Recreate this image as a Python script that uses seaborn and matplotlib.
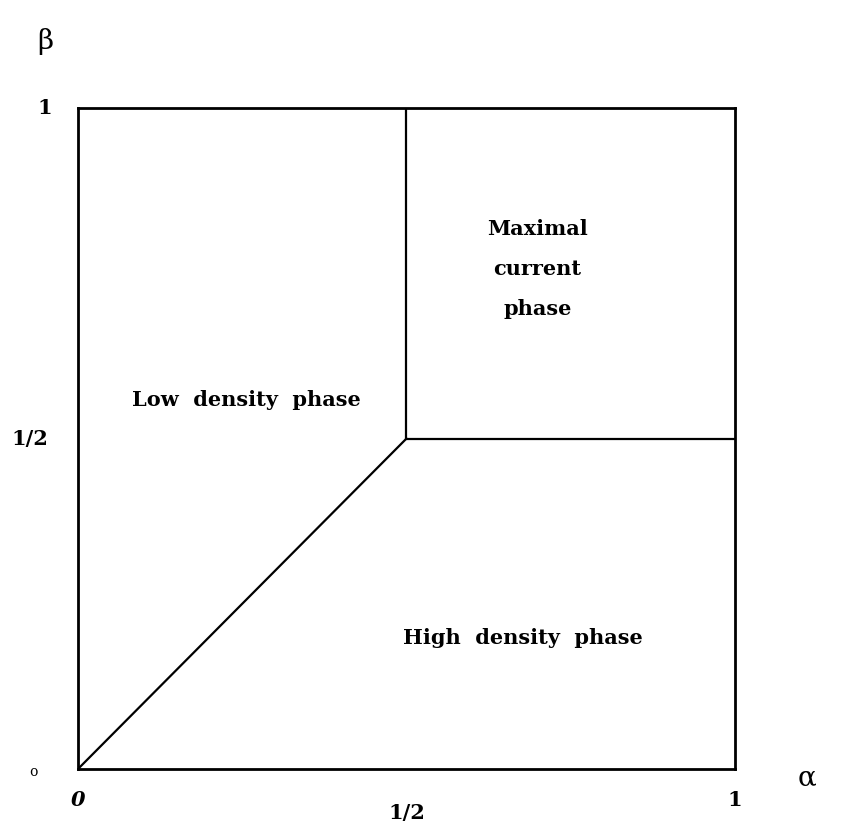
import matplotlib
matplotlib.use("Agg")
import matplotlib.pyplot as plt
import pandas as pd
import seaborn as sns

# phase boundaries in the (alpha, beta) plane
boundaries = {
    "LD/HD": ([0.0, 0.5], [0.0, 0.5]),
    "LD/MC": ([0.5, 0.5], [0.5, 1.0]),
    "HD/MC": ([0.5, 1.0], [0.5, 0.5]),
}
phase_names = ["Low  density  phase", "High  density  phase", "Maximal\ncurrent\nphase"]
phase_alpha = [0.256, 0.677, 0.699]
phase_beta = [0.558, 0.198, 0.756]
x_labels = ["0", "1/2", "1"]
x_vals = [0.0, 0.5, 1.0]
y_labels = ["o", "1/2", "1"]
y_vals = [0.0, 0.5, 1.0]

sns.set_style("white")
plt.rcParams["font.family"] = ["DejaVu Serif"]
plt.rcParams["text.color"] = "black"

fig = plt.figure(figsize=(8.53, 8.26), dpi=100)
ax = fig.add_axes([0.0914, 0.069, 0.7703, 0.8002])

for name, (a, b) in boundaries.items():
    df = pd.DataFrame({"alpha": a, "beta": b})
    sns.lineplot(data=df, x="alpha", y="beta", sort=False, estimator=None,
                 color="black", linewidth=1.6, ax=ax)

for name, xa, yb in zip(phase_names, phase_alpha, phase_beta):
    ax.text(xa, yb, name, ha="center", va="center", fontsize=15,
            fontweight="bold", linespacing=2.25, color="black")

ax.set_xlim(0, 1)
ax.set_ylim(0, 1)
ax.set_xticks([])
ax.set_yticks([])
ax.set_xlabel("")
ax.set_ylabel("")
for s in ax.spines.values():
    s.set_visible(True)
    s.set_color("black")
    s.set_linewidth(2)

# axis value labels
x_offsets = [-0.047, -0.066, -0.047]
for lab, xv, off in zip(x_labels, x_vals, x_offsets):
    style = "italic" if lab == "0" else "normal"
    ax.text(xv, off, lab, ha="center", va="center", fontsize=15,
            fontweight="bold", style=style, clip_on=False, color="black")
for lab, yv in zip(y_labels, y_vals):
    if lab == "1/2":
        ax.text(-0.073, yv, lab, ha="center", va="center", fontsize=15,
                fontweight="bold", clip_on=False, color="black")
    elif lab == "o":
        ax.text(-0.068, yv - 0.004, lab, ha="center", va="center",
                fontsize=10, clip_on=False, color="black")
    else:
        ax.text(-0.05, yv, lab, ha="center", va="center", fontsize=15,
                fontweight="bold", clip_on=False, color="black")

ax.text(-0.05, 1.1, "\u03b2", ha="center", va="center", fontsize=20,
        clip_on=False, color="black")
ax.text(1.11, -0.013, "\u03b1", ha="center", va="center", fontsize=20,
        clip_on=False, color="black")

fig.savefig("out.png", dpi=100)
